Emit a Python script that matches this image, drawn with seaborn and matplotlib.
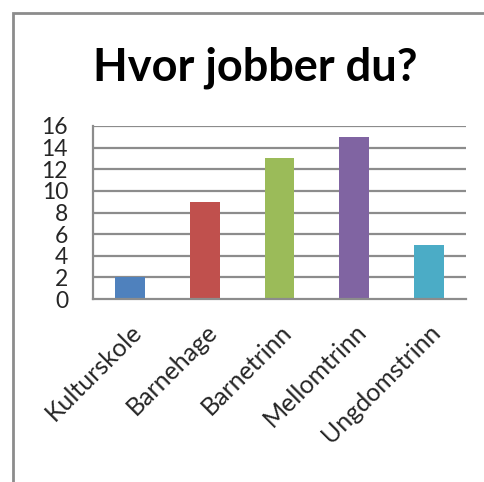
import seaborn as sns
import matplotlib.pyplot as plt
import pandas as pd
from matplotlib.patches import Rectangle

# Data
kategorier = ["Kulturskole", "Barnehage", "Barnetrinn", "Mellomtrinn", "Ungdomstrinn"]
antall = [2, 9, 13, 15, 5]
farger = ["#4F81BD", "#C0504D", "#9BBB59", "#8064A2", "#4BACC6"]
y_ticks = [0, 2, 4, 6, 8, 10, 12, 14, 16]

df = pd.DataFrame({"kategori": kategorier, "antall": antall})

sns.set_style("white")
plt.rcParams['font.family'] = ['Lato', 'DejaVu Sans']

fig = plt.figure(figsize=(4.85, 4.82), dpi=100)
ax = fig.add_axes([93 / 485, 1 - 299 / 482, 373 / 485, 173 / 482])

sns.barplot(data=df, x="kategori", y="antall", hue="kategori", palette=farger,
            width=0.4, legend=False, ax=ax, saturation=1, linewidth=0)

grid = "#8C8C8C"
ax.set_xlim(-0.5, 4.5)
ax.set_ylim(0, 16)
ax.set_yticks(y_ticks)
ax.set_yticklabels([str(v) for v in y_ticks], fontsize=16.5)
for v in y_ticks[1:]:
    ax.axhline(v, color=grid, lw=1.6, zorder=0)
ax.set_axisbelow(True)

ax.set_xticks([i - 0.5 for i in range(6)], minor=False)
ax.set_xticklabels([])
ax.set_xticks(range(5), minor=True)
ax.set_xticklabels(kategorier, minor=True, rotation=45, ha="right",
                   rotation_mode="anchor", fontsize=18)
ax.tick_params(axis="x", which="minor", length=0, pad=15)
ax.tick_params(axis="x", which="major", length=7, width=1.6, color=grid, direction="out")
ax.tick_params(axis="y", length=7, width=1.6, color=grid, direction="out", pad=11)

for s in ["top", "right"]:
    ax.spines[s].set_visible(False)
for s in ["left", "bottom"]:
    ax.spines[s].set_color(grid)
    ax.spines[s].set_linewidth(1.6)

ax.set_xlabel("")
ax.set_ylabel("")

fig.text(0.526, 1 - 68 / 482, "Hvor jobber du?", ha="center", va="center",
         fontsize=32.5, fontweight="bold", color="black")

fig.add_artist(Rectangle((13 / 485, -0.1), 1.2, 1 - 13 / 482 + 0.1, transform=fig.transFigure,
                         fill=False, edgecolor="#8C8C8C", lw=2))

fig.savefig("out.png", dpi=100)
